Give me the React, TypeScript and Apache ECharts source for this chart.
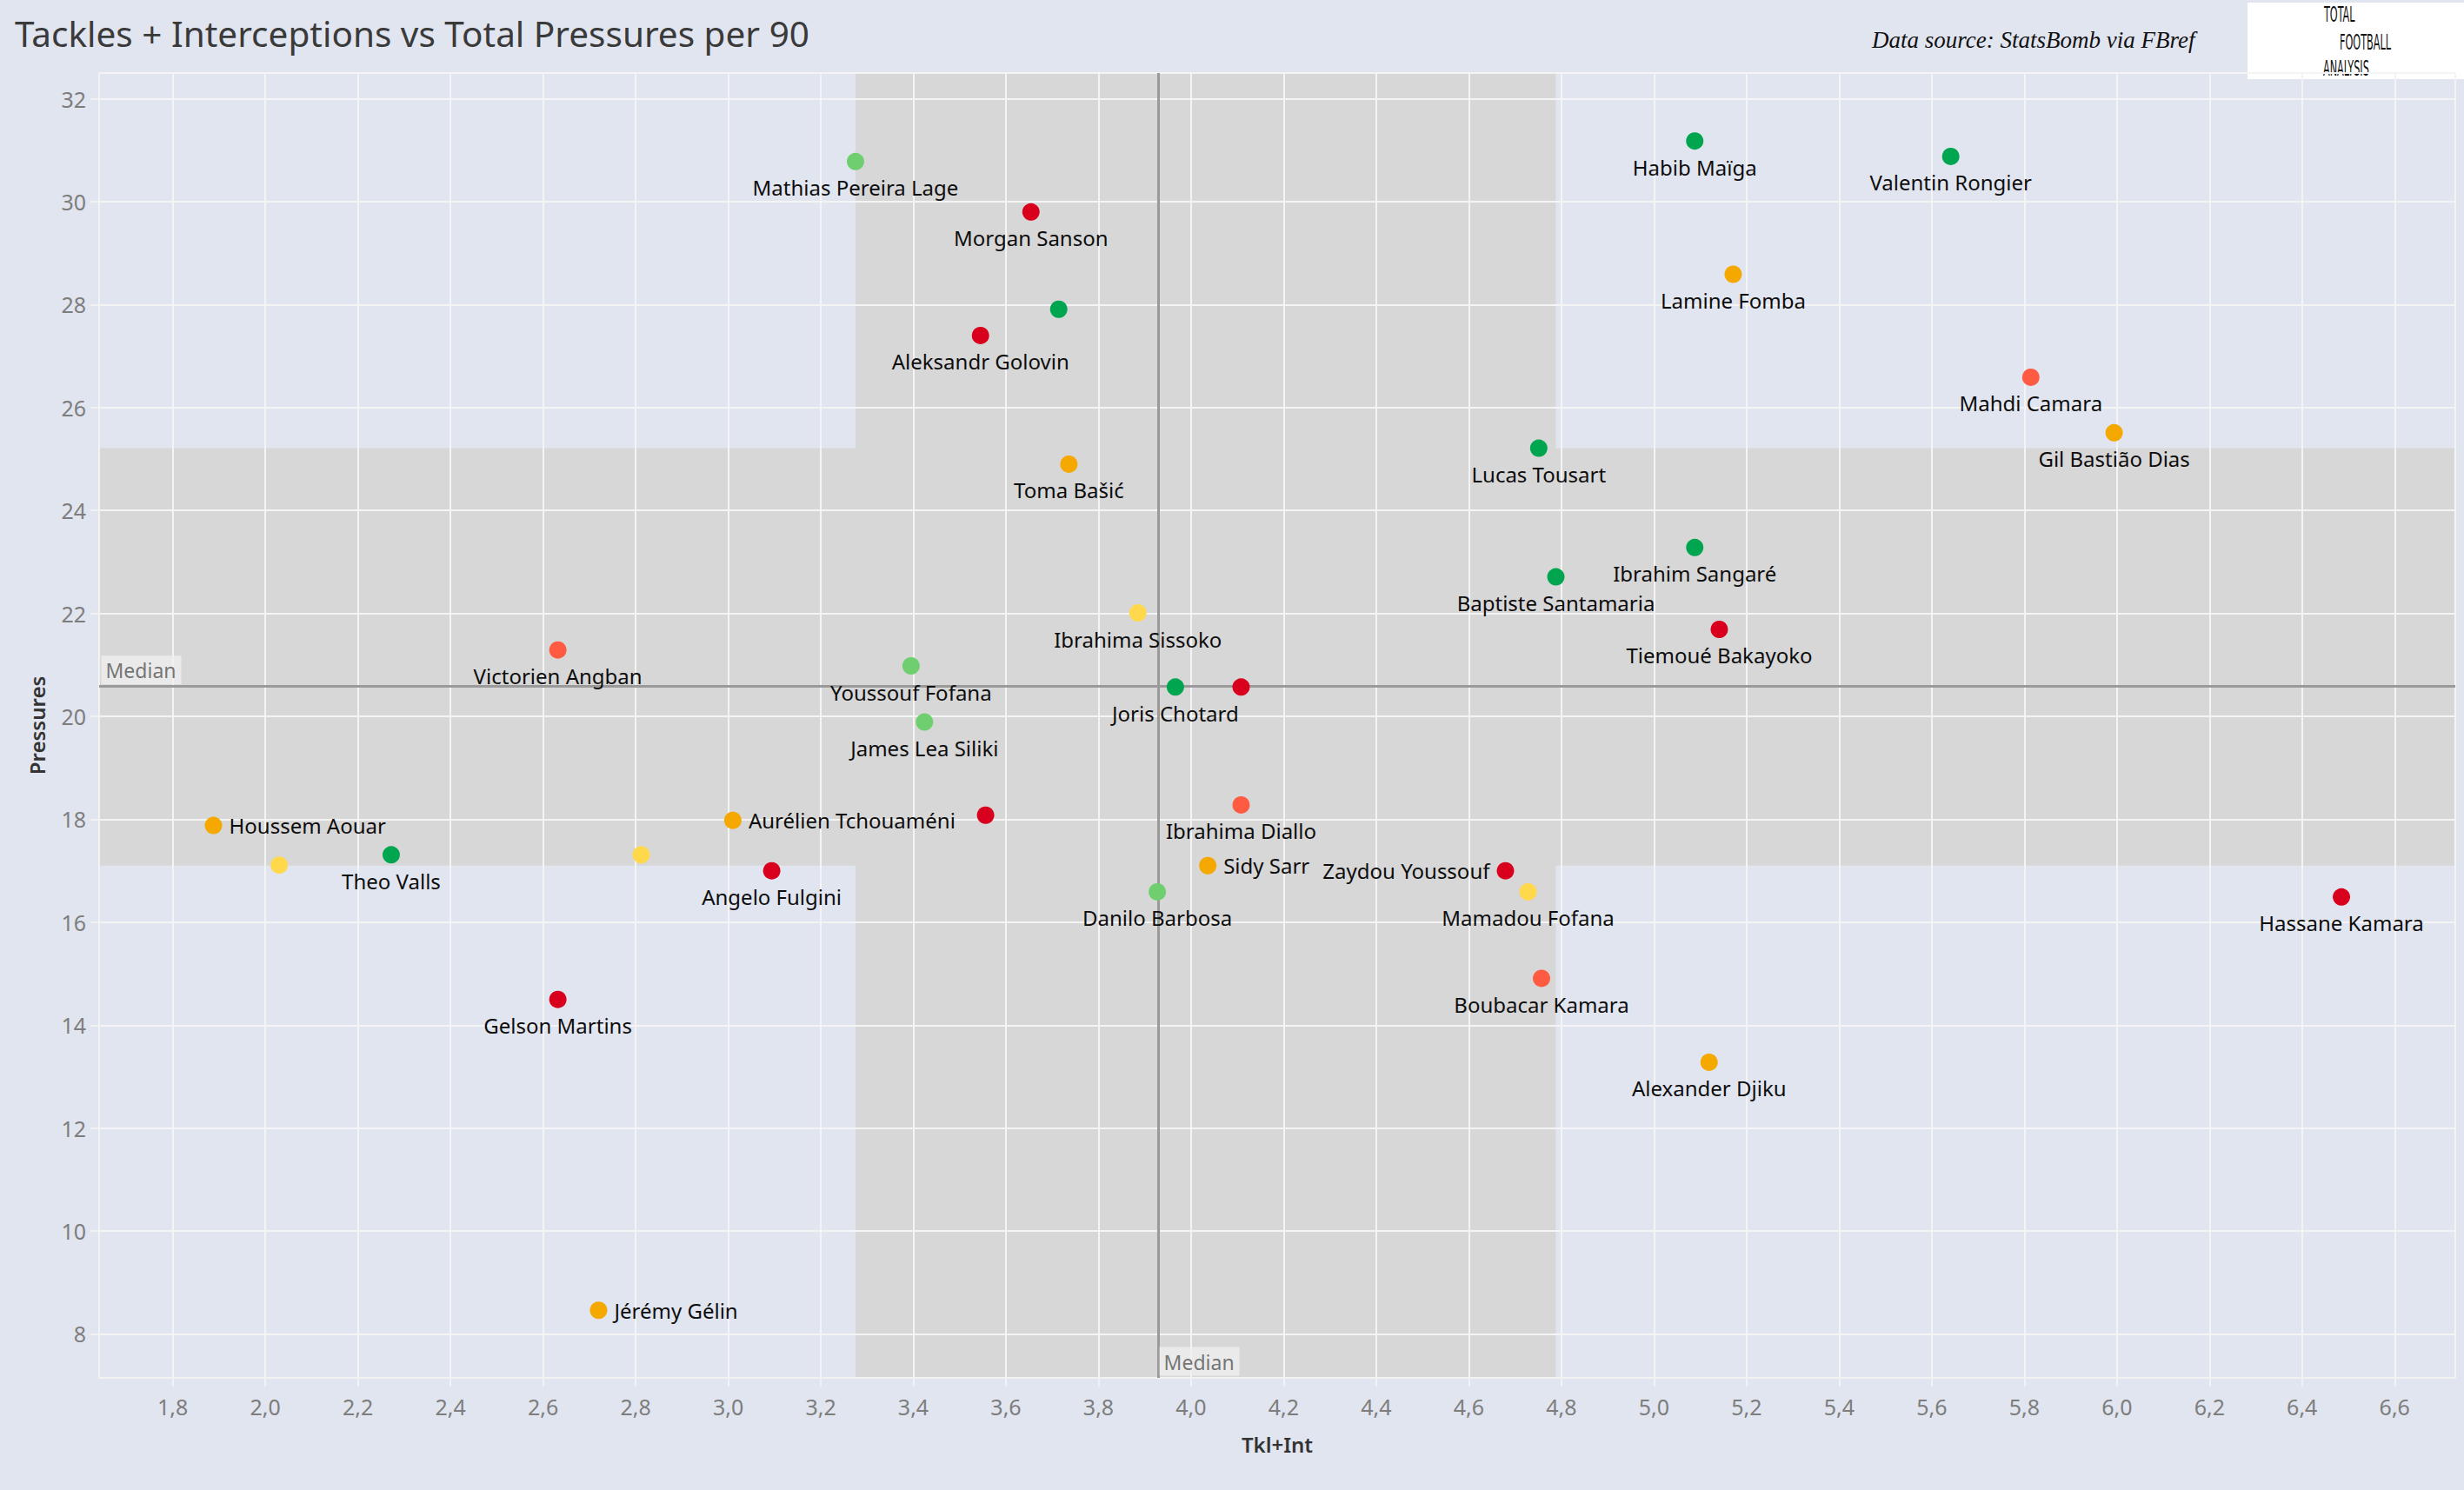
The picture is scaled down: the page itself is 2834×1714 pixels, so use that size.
import React, { useEffect, useRef } from "react";
import * as echarts from "echarts";

// ---------- DATA ----------
const players = [
  "Mathias Pereira Lage", "Morgan Sanson", "", "Aleksandr Golovin", "Toma Bašić",
  "Habib Maïga", "Valentin Rongier", "Lamine Fomba", "Mahdi Camara", "Gil Bastião Dias",
  "Lucas Tousart", "Ibrahim Sangaré", "Baptiste Santamaria", "Tiemoué Bakayoko", "Ibrahima Sissoko",
  "Victorien Angban", "Youssouf Fofana", "Joris Chotard", "", "James Lea Siliki",
  "Houssem Aouar", "", "Theo Valls", "", "Aurélien Tchouaméni",
  "", "Angelo Fulgini", "Ibrahima Diallo", "Sidy Sarr", "Danilo Barbosa",
  "Zaydou Youssouf", "Mamadou Fofana", "Hassane Kamara", "Boubacar Kamara", "Alexander Djiku",
  "Gelson Martins", "Jérémy Gélin",
];
const tklInt = [
  3.275, 3.654, 3.714, 3.545, 3.736,
  5.088, 5.641, 5.171, 5.814, 5.994,
  4.751, 5.088, 4.788, 5.141, 3.885,
  2.632, 3.395, 3.966, 4.108, 3.424,
  1.888, 2.03, 2.272, 2.812, 3.01,
  3.556, 3.094, 4.108, 4.036, 3.927,
  4.679, 4.728, 6.485, 4.757, 5.119,
  2.632, 2.72,
];
const pressures = [
  30.78, 29.8, 27.91, 27.4, 24.9,
  31.18, 30.88, 28.59, 26.59, 25.51,
  25.21, 23.28, 22.71, 21.69, 22.01,
  21.29, 20.98, 20.57, 20.57, 19.89,
  17.88, 17.11, 17.31, 17.31, 17.98,
  18.08, 17.0, 18.28, 17.1, 16.59,
  17.0, 16.59, 16.49, 14.91, 13.28,
  14.5, 8.46,
];
// 0 dark green, 1 light green, 2 yellow, 3 orange, 4 tomato, 5 red
const tiers = [
  1, 5, 0, 5, 3,
  0, 0, 3, 4, 3,
  0, 0, 0, 5, 2,
  4, 1, 0, 5, 1,
  3, 2, 0, 2, 3,
  5, 5, 4, 3, 1,
  5, 2, 5, 4, 3,
  5, 3,
];
const labelSides = [
  "bottom", "bottom", "", "bottom", "bottom",
  "bottom", "bottom", "bottom", "bottom", "bottom",
  "bottom", "bottom", "bottom", "bottom", "bottom",
  "bottom", "bottom", "bottom", "", "bottom",
  "right", "", "bottom", "", "right",
  "", "bottom", "bottom", "right", "bottom",
  "left", "bottom", "bottom", "bottom", "bottom",
  "bottom", "right",
];
const tierColors = ["#00a54f", "#6fcf6f", "#ffd84c", "#f4a800", "#ff5b42", "#d8001c"];

const xMedian = 3.927;
const yMedian = 20.58;
const xBand = [3.275, 4.788];
const yBand = [17.1, 25.21];
const xRange = [1.641, 6.731];
const yRange = [7.147, 32.5];

const titleText = "Tackles + Interceptions vs Total Pressures per 90";
const sourceText = "Data source: StatsBomb via FBref";
const logoLines = ["TOTAL", "FOOTBALL", "ANALYSIS"];
const xName = "Tkl+Int";
const yName = "Pressures";
const medianText = "Median";

const FONT = "Noto Sans";

export default function App() {
  const ref = useRef<HTMLDivElement>(null);

  useEffect(() => {
    document.body.style.margin = "0";
    const chart = echarts.init(ref.current!, undefined, { renderer: "svg" });

    const points = players.map((name, i) => ({
      name,
      value: [tklInt[i], pressures[i]],
      itemStyle: { color: tierColors[tiers[i]], opacity: 1 },
      label: {
        show: labelSides[i] !== "",
        position: (labelSides[i] || "bottom") as any,
      },
    }));

    const axisCommon = {
      type: "value" as const,
      z: 3,
      axisLine: { show: true, lineStyle: { color: "#f2f2f2", width: 2 } },
      axisTick: { show: true, length: 10, lineStyle: { color: "#f2f2f2", width: 2 } },
      splitLine: { show: true, lineStyle: { color: "#f4f4f4", width: 2 } },
      nameTextStyle: { fontFamily: FONT, fontSize: 24, fontWeight: 600, color: "#333" },
    };

    const logoPos = [
      [2673, 4],
      [2691, 36],
      [2672, 66],
    ];

    chart.setOption({
      animation: false,
      backgroundColor: "#e1e5f0",
      title: [
        {
          text: titleText,
          left: 12,
          top: 13,
          textStyle: { fontFamily: FONT, fontSize: 40.5, fontWeight: "normal", color: "#3a3a3a" },
        },
        {
          text: sourceText,
          left: 2148,
          top: 27,
          textStyle: {
            fontFamily: "Liberation Serif",
            fontStyle: "italic",
            fontSize: 27,
            fontWeight: "normal",
            color: "#111",
          },
        },
      ],
      graphic: [
        { type: "rect", shape: { x: 2585, y: 3, width: 249, height: 88 }, style: { fill: "#ffffff" } },
        ...logoLines.map((t, i) => ({
          type: "text",
          x: logoPos[i][0],
          y: logoPos[i][1],
          scaleX: 0.5,
          style: {
            text: t,
            fontFamily: "DejaVu Sans Condensed",
            fontSize: 25,
            fill: "#111",
          },
        })),
      ],
      grid: { left: 114, right: 10, top: 84, bottom: 129, containLabel: false },
      xAxis: {
        ...axisCommon,
        min: xRange[0],
        max: xRange[1],
        minInterval: 0.2,
        maxInterval: 0.2,
        splitNumber: 25,
        name: xName,
        nameLocation: "middle",
        nameGap: 64,
        axisLabel: {
          show: true,
          margin: 20,
          fontFamily: FONT,
          fontSize: 25,
          color: "#7d7d7d",
          showMinLabel: false,
          showMaxLabel: false,
          formatter: (v: number) =>
            Math.abs(v * 5 - Math.round(v * 5)) < 1e-6 ? v.toFixed(1).replace(".", ",") : "",
        },
      },
      yAxis: {
        ...axisCommon,
        min: yRange[0],
        max: yRange[1],
        minInterval: 2,
        maxInterval: 2,
        splitNumber: 13,
        name: yName,
        nameLocation: "middle",
        nameGap: 60,
        axisLabel: {
          show: true,
          margin: 15,
          fontFamily: FONT,
          fontSize: 25,
          color: "#7d7d7d",
          showMinLabel: false,
          showMaxLabel: false,
          formatter: (v: number) => (Math.abs(v / 2 - Math.round(v / 2)) < 1e-6 ? String(Math.round(v)) : ""),
        },
      },
      series: [
        {
          type: "scatter",
          name: "bands",
          z: 1,
          silent: true,
          data: [],
          markArea: {
            silent: true,
            itemStyle: { color: "#d7d7d7", opacity: 1 },
            label: { show: false },
            data: [
              [{ xAxis: xBand[0] }, { xAxis: xBand[1] }],
              [{ yAxis: yBand[0] }, { yAxis: yBand[1] }],
            ],
          },
        },
        {
          type: "scatter",
          name: "medians",
          z: 4,
          silent: true,
          data: [],
          markLine: {
            silent: true,
            symbol: "none",
            label: { show: false },
            lineStyle: { color: "#9a9a9a", width: 3, type: "solid" },
            data: [{ xAxis: xMedian }, { yAxis: yMedian }],
          },
        },
        {
          type: "scatter",
          name: "players",
          z: 5,
          symbolSize: 20,
          clip: false,
          itemStyle: { opacity: 1 },
          data: points,
          label: {
            formatter: "{b}",
            fontFamily: FONT,
            fontSize: 24,
            color: "#0d0d0d",
            distance: 8,
          },
        },
        {
          type: "scatter",
          name: "medianLabels",
          z: 6,
          symbolSize: 1,
          clip: false,
          silent: true,
          itemStyle: { color: "rgba(0,0,0,0)" },
          data: [
            [xRange[0], yMedian],
            [xMedian, yRange[0]],
          ],
          label: {
            show: true,
            formatter: medianText,
            position: [3, -2],
            align: "left",
            verticalAlign: "bottom",
            fontFamily: FONT,
            fontSize: 23,
            lineHeight: 26,
            color: "#555",
            backgroundColor: "#efefef",
            padding: [4, 6, 3, 5],
          },
        },
      ],
    });

    return () => chart.dispose();
  }, []);

  return (
    <div
      ref={ref}
      style={{ position: "absolute", left: 0, top: 0, width: 2834, height: 1714 }}
    />
  );
}
